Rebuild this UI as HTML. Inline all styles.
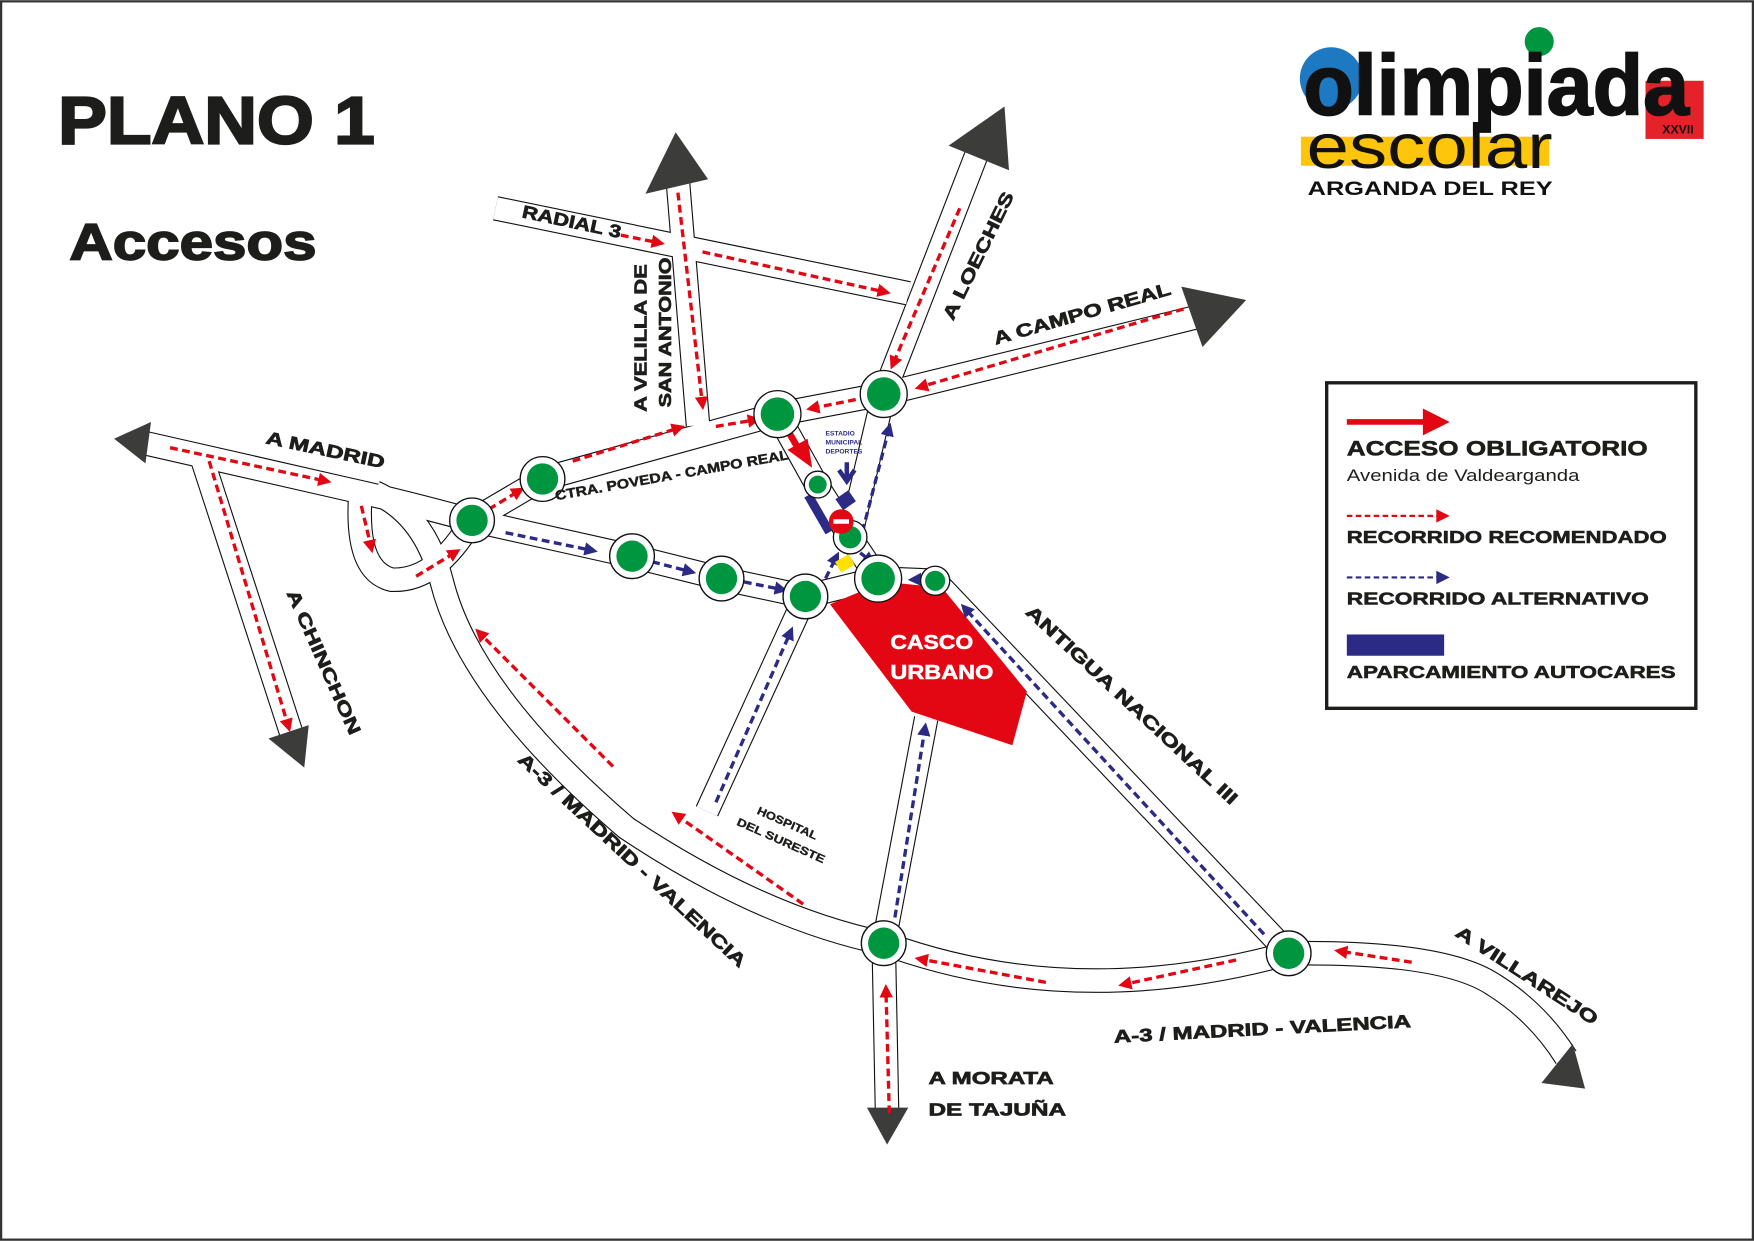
<!DOCTYPE html>
<html><head><meta charset="utf-8"><style>
html,body{margin:0;padding:0;background:#fff}
svg{display:block}
text{font-family:"Liberation Sans",Arial,sans-serif;font-weight:bold}
</style></head><body>
<svg width="1754" height="1241" viewBox="0 0 1568 1109" xmlns="http://www.w3.org/2000/svg">
<defs>
<marker id="mr" markerWidth="4" markerHeight="4" refX="2.5" refY="2" orient="auto" markerUnits="strokeWidth"><path d="M0,0 L4,2 L0,4 z" fill="#e30613"/></marker>
<marker id="mb" markerWidth="4" markerHeight="4" refX="2.5" refY="2" orient="auto" markerUnits="strokeWidth"><path d="M0,0 L4,2 L0,4 z" fill="#2b2a85"/></marker>
</defs>
<rect x="1" y="1" width="1566" height="1107" fill="#fff" stroke="#333" stroke-width="2"/>

<g fill="none" stroke-linecap="butt" stroke-linejoin="round">
<g stroke="#111" stroke-width="22">
<path d="M443,186 L812,262"/>
<path d="M605,150 L624,380"/>
<path d="M880,120 L790,352"/>
<path d="M790,352 L1075,282"/>
<path d="M422,465 L485,428 L695,370 L790,352"/>
<path d="M130,396 L310,437 Q360,448 422,465"/>
<path d="M180,408 L262,660"/>
<path d="M335,440 Q380,460 395,520 Q420,620 560,740 Q680,820 790,843"/>
<path d="M322,445 Q318,510 350,518 Q390,520 422,465"/>
<path d="M422,465 L565,497 L645,517 L720,533 L785,517 L836,519"/>
<path d="M720,533 L632,725"/>
<path d="M695,370 L730,433 L760,480 L785,517"/>
<path d="M790,352 L760,480"/>
<path d="M836,519 L1152,852"/>
<path d="M790,843 L828,642"/>
<path d="M790,843 L793,995"/>
<path d="M790,843 Q960,905 1152,852"/>
<path d="M1152,852 Q1290,850 1335,880 Q1375,905 1400,945"/>
</g>
<g stroke="#fff" stroke-width="20">
<path d="M443,186 L812,262"/>
<path d="M605,150 L624,380"/>
<path d="M880,120 L790,352"/>
<path d="M790,352 L1075,282"/>
<path d="M422,465 L485,428 L695,370 L790,352"/>
<path d="M130,396 L310,437 Q360,448 422,465"/>
<path d="M180,408 L262,660"/>
<path d="M335,440 Q380,460 395,520 Q420,620 560,740 Q680,820 790,843"/>
<path d="M322,445 Q318,510 350,518 Q390,520 422,465"/>
<path d="M422,465 L565,497 L645,517 L720,533 L785,517 L836,519"/>
<path d="M720,533 L632,725"/>
<path d="M695,370 L730,433 L760,480 L785,517"/>
<path d="M790,352 L760,480"/>
<path d="M836,519 L1152,852"/>
<path d="M790,843 L828,642"/>
<path d="M790,843 L793,995"/>
<path d="M790,843 Q960,905 1152,852"/>
<path d="M1152,852 Q1290,850 1335,880 Q1375,905 1400,945"/>
</g>
</g>

<g fill="#3c3c3b">
<path d="M604,118 L633,160 L577,173 z"/>
<path d="M898,95 L902,152 L848,130 z"/>
<path d="M1114,268 L1075,310 L1056,256 z"/>
<path d="M102,392 L135,377 L130,414 z"/>
<path d="M272,686 L240,660 L276,648 z"/>
<path d="M793,1023 L775,990 L812,990 z"/>
<path d="M1417,973 L1378,968 L1406,933 z"/>
</g>

<path d="M742,540 L790,520 L842,525 L918,618 L905,666 L815,636 z" fill="#e30613"/>
<text x="796" y="580" fill="#fff" stroke="#fff" stroke-width="0.5" font-size="18" textLength="74" lengthAdjust="spacingAndGlyphs">CASCO</text>
<text x="796" y="607" fill="#fff" stroke="#fff" stroke-width="0.5" font-size="18" textLength="92" lengthAdjust="spacingAndGlyphs">URBANO</text>

<g fill="none" stroke="#e30613" stroke-width="3" stroke-dasharray="7,4" marker-end="url(#mr)">
<path d="M555,210 L590,217"/>
<path d="M628,225 L792,261"/>
<path d="M606,172 L628,362"/>
<path d="M858,186 L798,326"/>
<path d="M1058,276 L822,346"/>
<path d="M765,357 L725,365"/>
<path d="M512,412 L608,382"/>
<path d="M640,381 L676,375"/>
<path d="M437,455 L465,438"/>
<path d="M152,400 L292,430"/>
<path d="M323,452 L332,490"/>
<path d="M372,515 L408,493"/>
<path d="M187,412 L258,650"/>
<path d="M548,685 L428,565"/>
<path d="M718,808 L604,728"/>
<path d="M935,878 L822,857"/>
<path d="M1105,858 L1004,880"/>
<path d="M1262,860 L1197,850"/>
<path d="M795,995 L792,884"/>
</g>
<g fill="none" stroke="#2b2a85" stroke-width="3" stroke-dasharray="7,4" marker-end="url(#mb)">
<path d="M452,476 L530,492"/>
<path d="M583,502 L618,511"/>
<path d="M665,520 L700,527"/>
<path d="M640,717 L707,564"/>
<path d="M800,820 L827,650"/>
<path d="M1130,835 L862,543"/>
<path d="M771,475 L795,382"/>
<path d="M848,517 L816,518"/>
<path d="M738,517 L748,497"/>
<path d="M769,494 L779,502"/>
</g>

<path d="M697,372 L712,398" stroke="#e30613" stroke-width="6"/>
<path d="M704,402 L722,392 L726,418 z" fill="#e30613"/>

<text x="738" y="389" fill="#2b2a85" font-size="6">ESTADIO</text>
<text x="738" y="397" fill="#2b2a85" font-size="6">MUNICIPAL</text>
<text x="738" y="405" fill="#2b2a85" font-size="6">DEPORTES</text>
<path d="M757,413 L757,430 M750,420 L757,430 L764,420" stroke="#2b2a85" stroke-width="4" fill="none"/>
<rect x="749" y="441" width="14" height="12" fill="#2b2a85" transform="rotate(-35 756 447)"/>
<rect x="728" y="440" width="8" height="38" fill="#2b2a85" transform="rotate(-30 732 459)"/>
<rect x="748" y="498" width="14" height="11" fill="#ffe000" transform="rotate(-30 755 503)"/>

<g stroke="#111" stroke-width="1.2" fill="#fff">
<circle cx="695" cy="370" r="21"/><circle cx="790" cy="352" r="21"/>
<circle cx="485" cy="428" r="20"/><circle cx="422" cy="465" r="20"/>
<circle cx="565" cy="497" r="20"/><circle cx="645" cy="517" r="20"/>
<circle cx="720" cy="533" r="20"/><circle cx="785" cy="517" r="21"/>
<circle cx="836" cy="519" r="13"/><circle cx="731" cy="433" r="12"/>
<circle cx="760" cy="480" r="15"/>
<circle cx="790" cy="843" r="20"/><circle cx="1152" cy="852" r="20"/>
</g>
<g fill="#009640">
<circle cx="695" cy="370" r="15"/><circle cx="790" cy="352" r="15"/>
<circle cx="485" cy="428" r="14"/><circle cx="422" cy="465" r="14"/>
<circle cx="565" cy="497" r="14"/><circle cx="645" cy="517" r="14"/>
<circle cx="720" cy="533" r="14"/><circle cx="785" cy="517" r="15"/>
<circle cx="836" cy="519" r="9"/><circle cx="731" cy="433" r="8"/>
<circle cx="760" cy="480" r="10"/>
<circle cx="790" cy="843" r="14"/><circle cx="1152" cy="852" r="14"/>
</g>
<circle cx="752" cy="466" r="11" fill="#e30613"/>
<rect x="745" y="464" width="14" height="4" fill="#fff"/>

<g fill="#1d1d1b" stroke="#1d1d1b" stroke-width="0.6">
<text x="52" y="128" font-size="60" stroke-width="2" textLength="283" lengthAdjust="spacingAndGlyphs">PLANO 1</text>
<text x="62" y="232" font-size="46" stroke-width="1.5" textLength="221" lengthAdjust="spacingAndGlyphs">Accesos</text>
<text font-size="16" transform="translate(466,194) rotate(12)" textLength="90" lengthAdjust="spacingAndGlyphs">RADIAL 3</text>
<text font-size="16" transform="translate(578,368) rotate(-90)" textLength="132" lengthAdjust="spacingAndGlyphs">A VELILLA DE</text>
<text font-size="16" transform="translate(600,364) rotate(-90)" textLength="134" lengthAdjust="spacingAndGlyphs">SAN ANTONIO</text>
<text font-size="16" transform="translate(852,287) rotate(-64)" textLength="125" lengthAdjust="spacingAndGlyphs">A LOECHES</text>
<text font-size="16" transform="translate(890,308) rotate(-16)" textLength="164" lengthAdjust="spacingAndGlyphs">A CAMPO REAL</text>
<text font-size="16" transform="translate(237,396) rotate(12)" textLength="108" lengthAdjust="spacingAndGlyphs">A MADRID</text>
<text font-size="12" stroke-width="0.4" transform="translate(497,447) rotate(-10)" textLength="212" lengthAdjust="spacingAndGlyphs">CTRA. POVEDA - CAMPO REAL</text>
<text font-size="16" transform="translate(256,530) rotate(66)" textLength="140" lengthAdjust="spacingAndGlyphs">A CHINCHON</text>
<text font-size="16" transform="translate(462,680) rotate(43)" textLength="272" lengthAdjust="spacingAndGlyphs">A-3 / MADRID - VALENCIA</text>
<text font-size="10" stroke-width="0.3" transform="translate(676,727) rotate(24)" textLength="58" lengthAdjust="spacingAndGlyphs">HOSPITAL</text>
<text font-size="10" stroke-width="0.3" transform="translate(658,737) rotate(24)" textLength="85" lengthAdjust="spacingAndGlyphs">DEL SURESTE</text>
<text font-size="16" transform="translate(916,548) rotate(43)" textLength="252" lengthAdjust="spacingAndGlyphs">ANTIGUA NACIONAL III</text>
<text font-size="16" transform="translate(1300,836) rotate(33)" textLength="148" lengthAdjust="spacingAndGlyphs">A VILLAREJO</text>
<text font-size="16" transform="translate(996,932) rotate(-3)" textLength="266" lengthAdjust="spacingAndGlyphs">A-3 / MADRID - VALENCIA</text>
<text x="830" y="969" font-size="16" textLength="112" lengthAdjust="spacingAndGlyphs">A MORATA</text>
<text x="830" y="997" font-size="16" textLength="123" lengthAdjust="spacingAndGlyphs">DE TAJUÑA</text>
</g>

<rect x="1186" y="342" width="330" height="291" fill="#fff" stroke="#1d1d1b" stroke-width="3"/>
<path d="M1204,377 L1276,377" stroke="#e30613" stroke-width="5"/>
<path d="M1272,365 L1296,377 L1272,389 z" fill="#e30613"/>
<g fill="#1d1d1b" stroke="#1d1d1b" stroke-width="0.5">
<text x="1204" y="407" font-size="19" textLength="269" lengthAdjust="spacingAndGlyphs">ACCESO OBLIGATORIO</text>
<text x="1204" y="485" font-size="16" textLength="286" lengthAdjust="spacingAndGlyphs">RECORRIDO RECOMENDADO</text>
<text x="1204" y="540" font-size="16" textLength="270" lengthAdjust="spacingAndGlyphs">RECORRIDO ALTERNATIVO</text>
<text x="1204" y="606" font-size="16" textLength="294" lengthAdjust="spacingAndGlyphs">APARCAMIENTO AUTOCARES</text>
</g>
<text x="1204" y="430" font-size="15" fill="#1d1d1b" style="font-weight:normal" textLength="208" lengthAdjust="spacingAndGlyphs">Avenida de Valdearganda</text>
<path d="M1204,461 L1286,461" stroke="#e30613" stroke-width="2" stroke-dasharray="5,3"/>
<path d="M1284,455 L1296,461 L1284,467 z" fill="#e30613"/>
<path d="M1204,516 L1286,516" stroke="#2b2a85" stroke-width="2" stroke-dasharray="5,3"/>
<path d="M1284,510 L1296,516 L1284,522 z" fill="#2b2a85"/>
<rect x="1204" y="567" width="87" height="19" fill="#2b2a85"/>

<circle cx="1190" cy="70" r="28" fill="#1d7ac2"/>
<circle cx="1376" cy="37" r="13" fill="#009640"/>
<rect x="1471" y="72" width="52" height="52" fill="#e3222a"/>
<rect x="1163" y="122" width="222" height="26" fill="#fdc50c"/>
<text x="1165" y="102" font-size="76" fill="#111" stroke="#111" stroke-width="1.5" textLength="345" lengthAdjust="spacingAndGlyphs">olimpiada</text>
<text x="1168" y="150" font-size="56" fill="#111" style="font-weight:normal" textLength="220" lengthAdjust="spacingAndGlyphs">escolar</text>
<text x="1486" y="119" font-size="11" fill="#111">XXVII</text>
<text x="1169" y="174" font-size="17" fill="#111" textLength="219" lengthAdjust="spacingAndGlyphs">ARGANDA DEL REY</text>
</svg>
</body></html>
